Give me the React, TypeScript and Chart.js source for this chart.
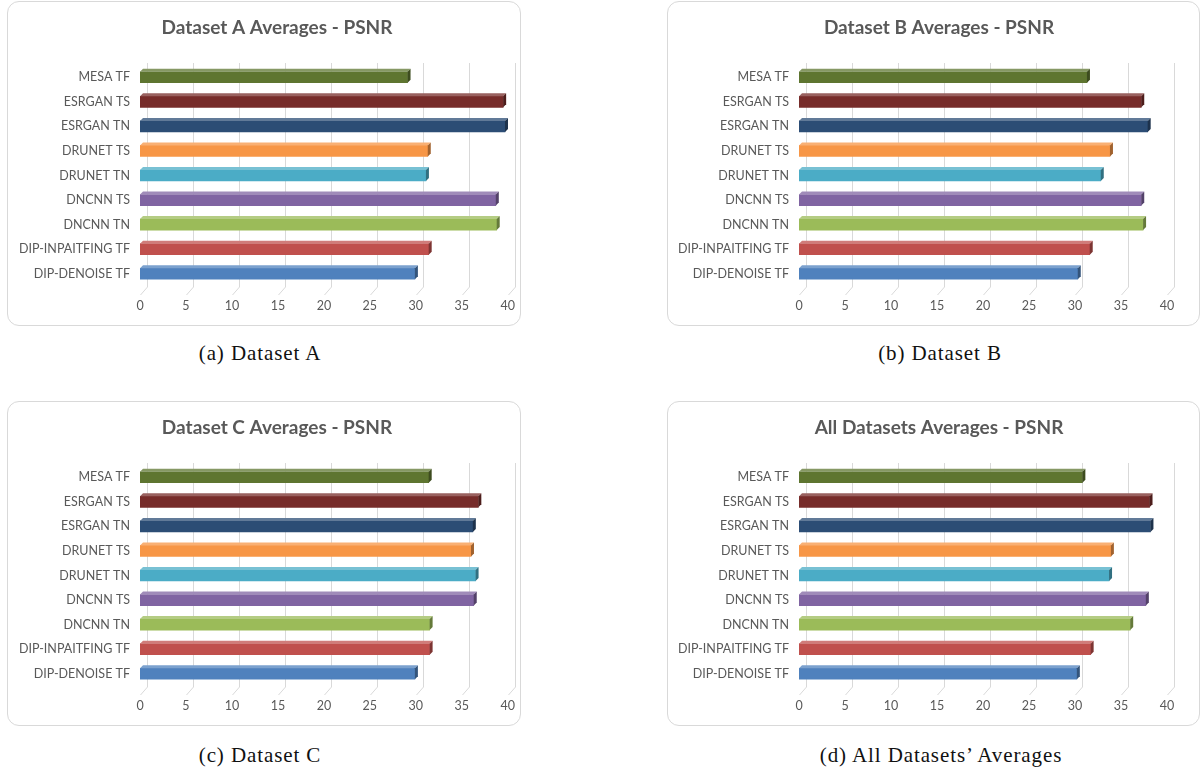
import React, { useEffect, useRef } from "react";
import { Chart, registerables } from "chart.js";

Chart.register(...registerables);

// ---------- data ----------
const categories = [
  "MESA TF",
  "ESRGAN TS",
  "ESRGAN TN",
  "DRUNET TS",
  "DRUNET TN",
  "DNCNN TS",
  "DNCNN TN",
  "DIP-INPAITFING TF",
  "DIP-DENOISE TF",
];
const barColors = [
  "#5e7530",
  "#772c2a",
  "#2c4d75",
  "#f79646",
  "#4bacc6",
  "#8064a2",
  "#9bbb59",
  "#c0504d",
  "#4f81bd",
];
const psnrA = [29.1, 39.5, 39.7, 31.3, 31.1, 38.7, 38.8, 31.4, 29.9];
const psnrB = [31.3, 37.2, 37.9, 33.8, 32.8, 37.2, 37.4, 31.6, 30.3];
const psnrC = [31.4, 36.8, 36.2, 36.0, 36.5, 36.3, 31.5, 31.5, 29.9];
const psnrAll = [30.8, 38.1, 38.2, 33.9, 33.7, 37.7, 36.0, 31.7, 30.2];
const xMin = 0;
const xMax = 40;
const xStep = 5;
const chartTitles = [
  "Dataset A Averages - PSNR",
  "Dataset B Averages - PSNR",
  "Dataset C Averages - PSNR",
  "All Datasets Averages - PSNR",
];
const captions = ["(a) Dataset A", "(b) Dataset B", "(c) Dataset C", "(d) All Datasets\u2019 Averages"];

// ---------- helpers ----------
const FONT = "Lato, 'Open Sans', sans-serif";
const TEXT_COLOR = "#595959";

function mix(hex: string, target: number, amt: number): string {
  const n = parseInt(hex.slice(1), 16);
  const r = (n >> 16) & 255, g = (n >> 8) & 255, b = n & 255;
  const f = (c: number) => Math.round(c + (target - c) * amt);
  return `rgb(${f(r)},${f(g)},${f(b)})`;
}

const DEPTH_X = 7;
const DEPTH_Y = 8;

const backWallGrid = {
  id: "backWallGrid",
  beforeDatasetsDraw(chart: any) {
    const { ctx, chartArea, scales } = chart;
    const xs = scales.x;
    ctx.save();
    ctx.strokeStyle = "#d9d9d9";
    ctx.lineWidth = 1;
    for (let v = xMin; v <= xMax; v += xStep) {
      const px = Math.round(xs.getPixelForValue(v)) + 0.5;
      ctx.beginPath();
      ctx.moveTo(px + DEPTH_X, chartArea.top - 2);
      ctx.lineTo(px + DEPTH_X, chartArea.bottom + 1);
      ctx.lineTo(px, chartArea.bottom + 1 + DEPTH_Y);
      ctx.stroke();
    }
    ctx.restore();
  },
};

const bars3d = {
  id: "bars3d",
  afterDatasetsDraw(chart: any) {
    const { ctx } = chart;
    const meta = chart.getDatasetMeta(0);
    const colors = chart.data.datasets[0].backgroundColor as string[];
    const dx = 3, dy = -3;
    ctx.save();
    meta.data.forEach((el: any, i: number) => {
      const p = el.getProps(["x", "y", "base", "height"], true);
      const left = Math.min(p.x, p.base);
      const right = Math.max(p.x, p.base);
      const top = p.y - p.height / 2;
      const bottom = p.y + p.height / 2;
      const c = colors[i];
      ctx.fillStyle = mix(c, 255, 0.25);
      ctx.beginPath();
      ctx.moveTo(left, top);
      ctx.lineTo(left + dx, top + dy);
      ctx.lineTo(right + dx, top + dy);
      ctx.lineTo(right, top);
      ctx.closePath();
      ctx.fill();
      ctx.fillStyle = mix(c, 0, 0.35);
      ctx.beginPath();
      ctx.moveTo(right, top);
      ctx.lineTo(right + dx, top + dy);
      ctx.lineTo(right + dx, bottom + dy);
      ctx.lineTo(right, bottom);
      ctx.closePath();
      ctx.fill();
    });
    ctx.restore();
  },
};

// title drawn at a chosen centre so it matches the source's slight offset
const placedTitle = {
  id: "placedTitle",
  afterDraw(chart: any, _args: any, opts: any) {
    const { ctx } = chart;
    ctx.save();
    ctx.font = `bold ${opts.size}px ${FONT}`;
    ctx.fillStyle = TEXT_COLOR;
    ctx.textAlign = "center";
    ctx.textBaseline = "middle";
    ctx.fillText(opts.text, opts.x, opts.y);
    ctx.restore();
  },
};

type PanelProps = {
  title: string;
  values: number[];
  width: number;
  height: number;
  padRight: number;
  yWidth: number;
  titleX: number;
};

function BarPanel({ title, values, width, height, padRight, yWidth, titleX }: PanelProps) {
  const ref = useRef<HTMLCanvasElement | null>(null);
  useEffect(() => {
    if (!ref.current) return;
    const chart = new Chart(ref.current, {
      type: "bar",
      data: {
        labels: categories,
        datasets: [
          {
            data: values,
            backgroundColor: barColors,
            borderWidth: 0,
            barThickness: 11,
          },
        ],
      },
      options: {
        indexAxis: "y",
        responsive: false,
        animation: false,
        devicePixelRatio: 1,
        layout: { padding: { left: 0, right: padRight, top: 63, bottom: 0 } },
        plugins: {
          legend: { display: false },
          tooltip: { enabled: false },
          title: { display: false },
          placedTitle: { text: title, x: titleX, y: 26, size: 19 },
        },
        scales: {
          x: {
            min: xMin,
            max: xMax,
            grid: { display: false, drawTicks: false },
            border: { display: false },
            ticks: {
              stepSize: xStep,
              color: TEXT_COLOR,
              font: { family: FONT, size: 12.5 },
              padding: 12,
              maxRotation: 0,
            },
          },
          y: {
            grid: { display: false, drawTicks: false },
            border: { display: false },
            afterFit: (scale: any) => {
              scale.width = yWidth;
            },
            ticks: {
              color: TEXT_COLOR,
              font: { family: FONT, size: 12.5 },
              padding: 10,
            },
          },
        },
      },
      plugins: [backWallGrid, bars3d, placedTitle],
    } as any);
    return () => chart.destroy();
  }, [title, values, width, height, padRight, yWidth, titleX]);
  return <canvas ref={ref} width={width} height={height} style={{ display: "block", width, height }} />;
}

function Card(props: { left: number; top: number; width: number; height: number; children: React.ReactNode }) {
  return (
    <div
      style={{
        position: "absolute",
        left: props.left,
        top: props.top,
        width: props.width,
        height: props.height,
        boxSizing: "border-box",
        border: "1px solid #d9d9d9",
        borderRadius: 12,
        background: "#fff",
        overflow: "hidden",
      }}
    >
      {props.children}
    </div>
  );
}

function Caption(props: { cx: number; cy: number; text: string }) {
  return (
    <div
      style={{
        position: "absolute",
        left: props.cx - 200,
        top: props.cy - 14,
        width: 400,
        height: 28,
        lineHeight: "28px",
        textAlign: "center",
        fontFamily: "'Liberation Serif', serif",
        fontSize: 21,
        letterSpacing: 0.9,
        color: "#111",
        whiteSpace: "nowrap",
      }}
    >
      {props.text}
    </div>
  );
}

export default function App() {
  // the left canvases run a little past the card's inner edge (clipped) so the plot reaches 40 at the right spot
  const leftPanel = { width: 519, height: 323, padRight: 0, yWidth: 132, titleX: 269 };
  const rightPanel = { width: 531, height: 323, padRight: 32, yWidth: 131, titleX: 271 };
  return (
    <div style={{ position: "relative", width: 1202, height: 771, background: "#fff", overflow: "hidden" }}>
      <style>{"body{margin:0;background:#fff;}"}</style>
      <Card left={7} top={1} width={514} height={325}>
        <BarPanel title={chartTitles[0]} values={psnrA} {...leftPanel} />
      </Card>
      <Card left={667} top={1} width={533} height={325}>
        <BarPanel title={chartTitles[1]} values={psnrB} {...rightPanel} />
      </Card>
      <Card left={7} top={401} width={514} height={325}>
        <BarPanel title={chartTitles[2]} values={psnrC} {...leftPanel} />
      </Card>
      <Card left={667} top={401} width={533} height={325}>
        <BarPanel title={chartTitles[3]} values={psnrAll} {...rightPanel} />
      </Card>
      <Caption cx={260} cy={353} text={captions[0]} />
      <Caption cx={940} cy={353} text={captions[1]} />
      <Caption cx={260} cy={755} text={captions[2]} />
      <Caption cx={941} cy={755} text={captions[3]} />
    </div>
  );
}
